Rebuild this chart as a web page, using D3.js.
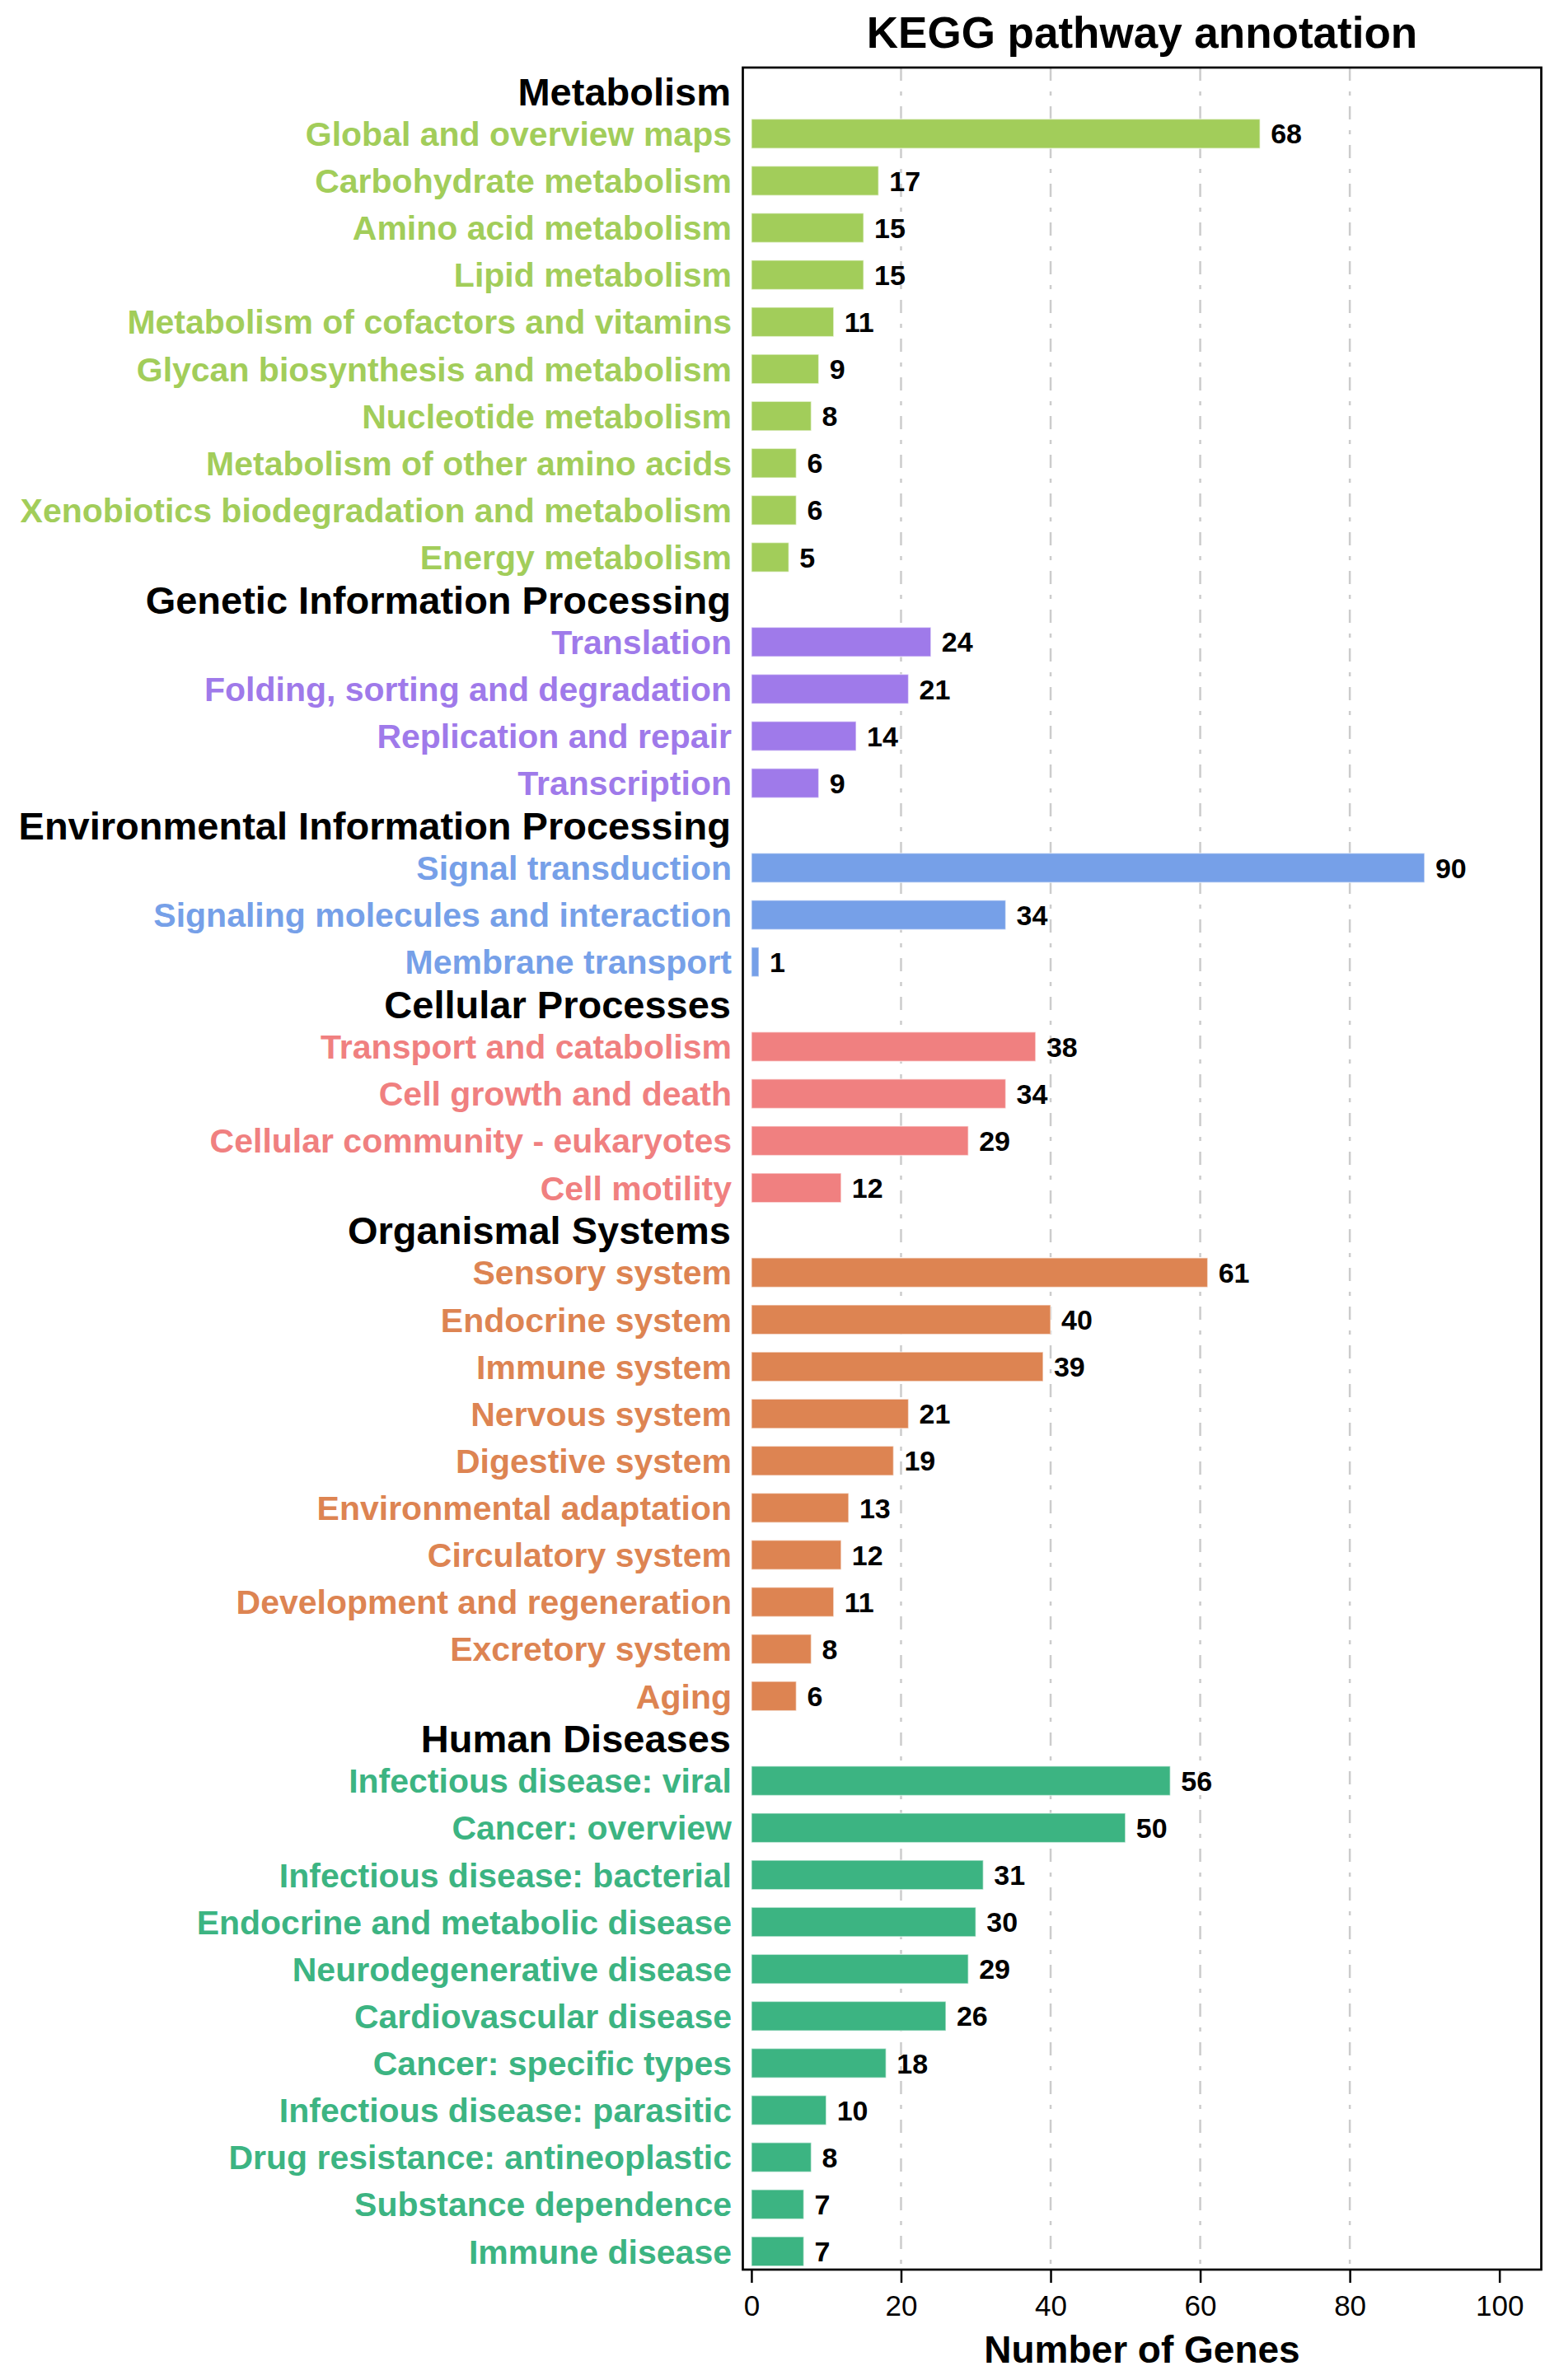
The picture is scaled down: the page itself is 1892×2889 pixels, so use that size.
<!DOCTYPE html>
<html>
<head>
<meta charset="utf-8">
<script src="https://cdn.jsdelivr.net/npm/d3@7/dist/d3.min.js"></script>
<style>
  html, body { margin: 0; padding: 0; background: #ffffff; }
  svg { display: block; font-family: "Liberation Sans", Arial, Helvetica, sans-serif; }
</style>
</head>
<body>
<svg id="chart" width="1892" height="2889"></svg>
<script>
// ---------------- DATA ----------------
const groupNames = [
  "Metabolism",
  "Genetic Information Processing",
  "Environmental Information Processing",
  "Cellular Processes",
  "Organismal Systems",
  "Human Diseases"
];
const groupColors = ["#A2CD5A", "#9F7AEA", "#76A0E8", "#F08080", "#DD8452", "#3CB482"];

const metabolismCats = ["Global and overview maps", "Carbohydrate metabolism", "Amino acid metabolism", "Lipid metabolism", "Metabolism of cofactors and vitamins", "Glycan biosynthesis and metabolism", "Nucleotide metabolism", "Metabolism of other amino acids", "Xenobiotics biodegradation and metabolism", "Energy metabolism"];
const metabolismVals = [68, 17, 15, 15, 11, 9, 8, 6, 6, 5];

const geneticCats = ["Translation", "Folding, sorting and degradation", "Replication and repair", "Transcription"];
const geneticVals = [24, 21, 14, 9];

const environmentalCats = ["Signal transduction", "Signaling molecules and interaction", "Membrane transport"];
const environmentalVals = [90, 34, 1];

const cellularCats = ["Transport and catabolism", "Cell growth and death", "Cellular community - eukaryotes", "Cell motility"];
const cellularVals = [38, 34, 29, 12];

const organismalCats = ["Sensory system", "Endocrine system", "Immune system", "Nervous system", "Digestive system", "Environmental adaptation", "Circulatory system", "Development and regeneration", "Excretory system", "Aging"];
const organismalVals = [61, 40, 39, 21, 19, 13, 12, 11, 8, 6];

const diseaseCats = ["Infectious disease: viral", "Cancer: overview", "Infectious disease: bacterial", "Endocrine and metabolic disease", "Neurodegenerative disease", "Cardiovascular disease", "Cancer: specific types", "Infectious disease: parasitic", "Drug resistance: antineoplastic", "Substance dependence", "Immune disease"];
const diseaseVals = [56, 50, 31, 30, 29, 26, 18, 10, 8, 7, 7];

const groupCats = [metabolismCats, geneticCats, environmentalCats, cellularCats, organismalCats, diseaseCats];
const groupVals = [metabolismVals, geneticVals, environmentalVals, cellularVals, organismalVals, diseaseVals];

const xTicks = [0, 20, 40, 60, 80, 100];
const gridTicks = [20, 40, 60, 80];
const titleText = "KEGG pathway annotation";
const xLabelText = "Number of Genes";

// ---------------- LAYOUT ----------------
const frame = { left: 901.5, right: 1870.5, top: 82, bottom: 2755 };
const groupGap = 1.8;

const rows = [];
const headers = [];
let pos = 0;
groupNames.forEach((g, gi) => {
  if (gi > 0) pos += groupGap - 1;
  headers.push({ name: g, pos: pos - 0.9 });
  groupCats[gi].forEach((c, ci) => {
    rows.push({ cat: c, val: groupVals[gi][ci], color: groupColors[gi], pos: pos });
    pos += 1;
  });
});
const lastPos = pos - 1;

const x = d3.scaleLinear().domain([-1.15, 105.6]).range([frame.left, frame.right]);
const y = d3.scaleLinear().domain([-1.406, lastPos + 0.387]).range([frame.top, frame.bottom]);
const unit = y(1) - y(0);
const barH = unit * 0.625;

const svg = d3.select("#chart");

// grid
svg.append("g").selectAll("line").data(gridTicks).join("line")
  .attr("x1", d => x(d)).attr("x2", d => x(d))
  .attr("y1", frame.top).attr("y2", frame.bottom)
  .attr("stroke", "#cccccc").attr("stroke-width", 2.5)
  .attr("stroke-dasharray", "16,13,5,13");

// bars
svg.append("g").selectAll("rect").data(rows).join("rect")
  .attr("x", x(0))
  .attr("y", d => y(d.pos) - barH / 2)
  .attr("width", d => x(d.val) - x(0))
  .attr("height", barH)
  .attr("fill", d => d.color)
  .attr("stroke", "#ffffff").attr("stroke-opacity", 0.55).attr("stroke-width", 1.5);

// value labels
svg.append("g").selectAll("text").data(rows).join("text")
  .attr("x", d => x(d.val) + 13)
  .attr("y", d => y(d.pos))
  .attr("dy", "0.358em")
  .attr("font-size", 34).attr("font-weight", "bold").attr("fill", "#000")
  .text(d => d.val);

// category labels
svg.append("g").selectAll("text").data(rows).join("text")
  .attr("x", 888)
  .attr("y", d => y(d.pos))
  .attr("dy", "0.358em")
  .attr("text-anchor", "end")
  .attr("font-size", 41).attr("font-weight", "bold")
  .attr("fill", d => d.color)
  .text(d => d.cat);

// group headers
svg.append("g").selectAll("text").data(headers).join("text")
  .attr("x", 887)
  .attr("y", d => y(d.pos))
  .attr("dy", "0.358em")
  .attr("text-anchor", "end")
  .attr("font-size", 47).attr("font-weight", "bold").attr("fill", "#000")
  .text(d => d.name);

// frame
svg.append("rect")
  .attr("x", frame.left).attr("y", frame.top)
  .attr("width", frame.right - frame.left).attr("height", frame.bottom - frame.top)
  .attr("fill", "none").attr("stroke", "#000").attr("stroke-width", 2.7);

// x axis
const axis = svg.append("g")
  .attr("transform", `translate(0,${frame.bottom})`)
  .call(d3.axisBottom(x).tickValues(xTicks).tickSize(16).tickPadding(15).tickFormat(d3.format("d")));
axis.select(".domain").remove();
axis.selectAll(".tick line").attr("stroke", "#000").attr("stroke-width", 2.5);
axis.selectAll(".tick text")
  .attr("font-size", 35).attr("fill", "#000")
  .attr("font-family", "\"Liberation Sans\", Arial, sans-serif");

// x label
svg.append("text")
  .attr("x", (frame.left + frame.right) / 2)
  .attr("y", 2868)
  .attr("text-anchor", "middle")
  .attr("font-size", 46).attr("font-weight", "bold").attr("fill", "#000")
  .text(xLabelText);

// title
svg.append("text")
  .attr("x", (frame.left + frame.right) / 2)
  .attr("y", 58)
  .attr("text-anchor", "middle")
  .attr("font-size", 53).attr("font-weight", "bold").attr("fill", "#000")
  .text(titleText);
</script>
</body>
</html>
